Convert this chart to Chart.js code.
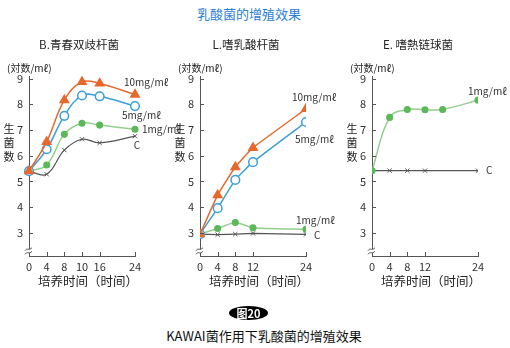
<!DOCTYPE html>
<html>
<head>
<meta charset="utf-8">
<script src="https://cdn.jsdelivr.net/npm/chart.js@4"></script>
<style>
body { margin: 0; width: 510px; height: 348px; background: #fff; position: relative; overflow: hidden; font-family: "Noto Sans CJK SC", sans-serif; }
#title { position: absolute; top: 5px; left: 0; width: 498px; text-align: center; color: #2d80d4; font-size: 13px; line-height: 18px; }
.panel { position: absolute; top: 0; width: 180px; height: 300px; }
#badge { position: absolute; left: 229px; top: 306px; width: 39px; height: 14px; border-radius: 50%; background: #000; color: #fff; font-size: 11px; font-weight: bold; line-height: 14px; text-align: center; }
#caption { position: absolute; top: 327px; left: 0; width: 528px; text-align: center; color: #111; font-size: 13px; line-height: 18px; }
</style>
</head>
<body>
<div id="title">乳酸菌的增殖效果</div>
<div class="panel" style="left:0px"><canvas id="chartB" width="180" height="300"></canvas></div>
<div class="panel" style="left:170px"><canvas id="chartL" width="180" height="300"></canvas></div>
<div class="panel" style="left:330px"><canvas id="chartE" width="180" height="300"></canvas></div>
<div id="badge">图20</div>
<div id="caption">KAWAI菌作用下乳酸菌的增殖效果</div>

<script>
// 数据 (生菌数, 对数/mℓ)
const yTicks = [3, 4, 5, 6, 7, 8, 9];

// B. 青春双歧杆菌 — 时间轴不等距, 16 与 24 之间空一格
const bLabels = ['0', '4', '8', '10', '16', '', '24'];
const b10 = [5.4, 6.54, 8.16, 8.87, 8.81, null, 8.38];
const b5 = [5.4, 6.25, 7.55, 8.34, 8.31, null, 7.93];
const b1 = [5.4, 5.64, 6.83, 7.26, 7.19, null, 7.03];
const bC = [5.4, 5.28, 6.22, 6.64, 6.50, null, 6.76];

// L. 嗜乳酸杆菌
const lHours = [0, 4, 8, 12, 24];
const l10 = [2.95, 4.47, 5.56, 6.31, 7.82];
const l5 = [2.95, 3.96, 5.06, 5.75, 7.31];
const l1 = [2.95, 3.17, 3.40, 3.20, 3.14];
const lC = [2.95, 2.93, 2.95, 2.98, 2.94];

// E. 嗜熱链球菌
const eHours1 = [0, 4, 8, 12, 16, 24];
const e1 = [5.42, 7.49, 7.80, 7.79, 7.80, 8.16];
const eHoursC = [0, 4, 8, 12, 24];
const eC = [5.42, 5.42, 5.42, 5.42, 5.42];

const xTicksLinear = [0, 4, 8, 12, 24];

const ORANGE = '#e8682c';
const BLUE = '#3a9fd9';
const GREEN_LINE = '#93cf8e';
const GREEN_DOT = '#5cb85a';
const DARK = '#555';
const FONT = '"Noto Sans CJK SC", sans-serif';

function pts(xs, ys) {
    return xs.map((x, i) => ({ x: x, y: ys[i] }));
}

// 坐标轴刻度 (朝内), 断轴符号, 各种文字
const panelText = {
    id: 'panelText',
    afterDraw(chart, args, o) {
        const ctx = chart.ctx;
        const a = chart.chartArea;
        const x = chart.scales.x, y = chart.scales.y;
        ctx.save();
        ctx.strokeStyle = DARK;
        ctx.lineWidth = 1;
        ctx.beginPath();
        y.ticks.forEach(t => {
            const py = Math.round(y.getPixelForValue(t.value)) + 0.5;
            ctx.moveTo(a.left, py);
            ctx.lineTo(a.left + 4, py);
        });
        x.ticks.forEach((t, i) => {
            if (t.label === '') return;
            const px = Math.round(x.getPixelForTick(i)) + 0.5;
            ctx.moveTo(px, a.bottom);
            ctx.lineTo(px, a.bottom - 4);
        });
        ctx.stroke();

        // 断轴
        const by = a.bottom - 5;
        ctx.fillStyle = '#fff';
        ctx.fillRect(a.left - 2, by - 2, 4, 4);
        ctx.beginPath();
        [-1.8, 1.8].forEach(d => {
            ctx.moveTo(a.left - 4, by + d + 1.5);
            ctx.bezierCurveTo(a.left - 2, by + d - 2, a.left, by + d + 2, a.left + 3, by + d - 1.5);
        });
        ctx.stroke();

        // 文字
        ctx.fillStyle = '#222';
        ctx.textBaseline = 'middle';
        ctx.font = '11.5px ' + FONT;
        ctx.textAlign = 'center';
        ctx.fillText(o.title, a.left + o.titleDx, 45);
        ctx.font = '10px ' + FONT;
        ctx.textAlign = 'left';
        ctx.fillText('(対数/mℓ)', a.left - 22, 68);
        ctx.font = '11px ' + FONT;
        ctx.textAlign = 'center';
        ['生', '菌', '数'].forEach((c, i) => ctx.fillText(c, a.left - 20, 129 + i * 14));
        ctx.font = '12.5px ' + FONT;
        ctx.fillText('培养时间（时间）', a.left + 59, 281);

        // 曲线标注
        ctx.font = '10px ' + FONT;
        chart.data.datasets.forEach((ds, i) => {
            if (!ds.tag) return;
            const meta = chart.getDatasetMeta(i);
            const p = meta.data[meta.data.length - 1];
            ctx.textAlign = ds.tagAlign || 'left';
            ctx.fillStyle = '#333';
            ctx.fillText(ds.tag, p.x + ds.tagDx, p.y + ds.tagDy);
        });
        ctx.restore();
    }
};

function yScale(width) {
    return {
        min: 2.1,
        max: 9.1,
        afterBuildTicks: s => { s.ticks = yTicks.map(v => ({ value: v })); },
        afterFit: s => { s.width = width; },
        grid: { display: false, drawTicks: false },
        border: { color: DARK, width: 1 },
        ticks: { padding: 6, color: '#333', font: { size: 11, family: FONT } }
    };
}

function xCommon() {
    return {
        afterFit: s => { s.height = 44; },
        grid: { display: false, drawTicks: false },
        border: { color: DARK, width: 1 },
        ticks: { padding: 4, color: '#333', maxRotation: 0, autoSkip: false, font: { size: 11, family: FONT } }
    };
}

function baseOptions(title, titleDx, yWidth, padRight, xScale) {
    return {
        responsive: false,
        animation: false,
        events: [],
        layout: { padding: { top: 76, left: 0, right: padRight, bottom: 0 } },
        plugins: {
            legend: { display: false },
            tooltip: { enabled: false },
            panelText: { title: title, titleDx: titleDx }
        },
        scales: { x: xScale, y: yScale(yWidth) }
    };
}

function ds(data, kind, tension, tag) {
    const d = { data: data, tension: tension, borderWidth: 1.5, spanGaps: true };
    if (kind === 'c') Object.assign(d, { borderColor: DARK, borderWidth: 1.2, pointStyle: 'crossRot', pointRadius: 3, pointBorderWidth: 1, pointBorderColor: DARK, order: 4 });
    if (kind === '1') Object.assign(d, { borderColor: GREEN_LINE, pointStyle: 'circle', pointRadius: 2.8, pointBackgroundColor: GREEN_DOT, pointBorderColor: GREEN_DOT, order: 3 });
    if (kind === '5') Object.assign(d, { borderColor: BLUE, pointStyle: 'circle', pointRadius: 4.3, pointBackgroundColor: '#fff', pointBorderColor: BLUE, pointBorderWidth: 1.5, order: 2 });
    if (kind === '10') Object.assign(d, { borderColor: ORANGE, pointStyle: 'triangle', pointRadius: 4.8, pointBackgroundColor: ORANGE, pointBorderColor: ORANGE, order: 1 });
    return Object.assign(d, tag);
}

// B
const xB = Object.assign(xCommon(), { type: 'category', offset: false });
new Chart(document.getElementById('chartB'), {
    type: 'line',
    data: {
        labels: bLabels,
        datasets: [
            ds(bC, 'c', 0.4, { tag: 'C', tagDx: 2, tagDy: 9, tagAlign: 'center' }),
            ds(b1, '1', 0.4, { tag: '1mg/mℓ', tagDx: 7, tagDy: 0 }),
            ds(b5, '5', 0.4, { tag: '5mg/mℓ', tagDx: -13, tagDy: 9 }),
            ds(b10, '10', 0.4, { tag: '10mg/mℓ', tagDx: -11, tagDy: -12 })
        ]
    },
    options: baseOptions('B.青春双歧杆菌', 50, 29, 45, xB),
    plugins: [panelText]
});

// L
const xL = Object.assign(xCommon(), { type: 'linear', min: 0, max: 24,
    afterBuildTicks: s => { s.ticks = xTicksLinear.map(v => ({ value: v })); } });
new Chart(document.getElementById('chartL'), {
    type: 'line',
    data: {
        datasets: [
            ds(pts(lHours, lC), 'c', 0, { tag: 'C', tagDx: 8, tagDy: 1 }),
            ds(pts(lHours, l1), '1', 0.2, { tag: '1mg/mℓ', tagDx: -10, tagDy: -9 }),
            ds(pts(lHours, l5), '5', 0.15, { tag: '5mg/mℓ', tagDx: -11, tagDy: 17 }),
            ds(pts(lHours, l10), '10', 0.15, { tag: '10mg/mℓ', tagDx: -14, tagDy: -12 })
        ]
    },
    options: baseOptions('L.嗜乳酸杆菌', 46, 30, 44, xL),
    plugins: [panelText]
});

// E
const xE = Object.assign(xCommon(), { type: 'linear', min: 0, max: 24,
    afterBuildTicks: s => { s.ticks = xTicksLinear.map(v => ({ value: v })); } });
new Chart(document.getElementById('chartE'), {
    type: 'line',
    data: {
        datasets: [
            ds(pts(eHoursC, eC), 'c', 0, { tag: 'C', tagDx: 8, tagDy: 0 }),
            ds(pts(eHours1, e1), '1', 0.4, { tag: '1mg/mℓ', tagDx: -10, tagDy: -9 })
        ]
    },
    options: baseOptions('E. 嗜熱链球菌', 46, 42, 32, xE),
    plugins: [panelText]
});
</script>
</body>
</html>
